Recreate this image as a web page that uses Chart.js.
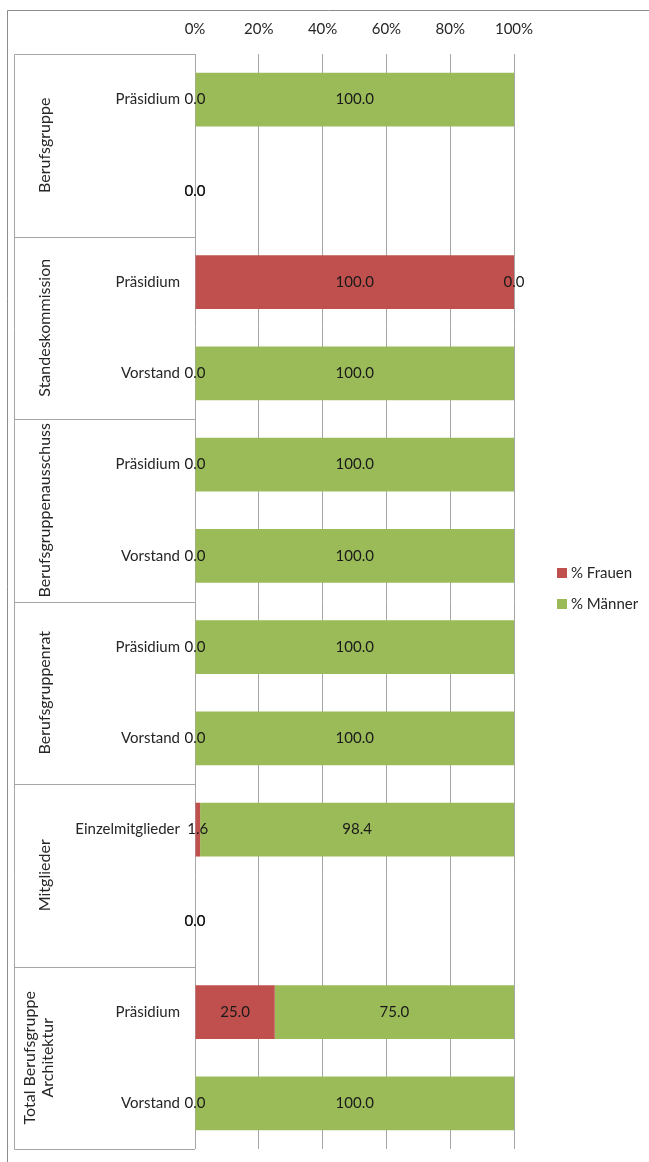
<!DOCTYPE html>
<html>
<head>
<meta charset="utf-8">
<script src="https://cdn.jsdelivr.net/npm/chart.js@4.4.1/dist/chart.umd.min.js"></script>
<style>
  html, body { margin: 0; padding: 0; background: #ffffff; }
  #wrap { width: 649px; height: 1162px; position: relative; }
</style>
</head>
<body>
<div id="wrap"><canvas id="chart"></canvas></div>
<script>
// Row labels (inner category axis)
const categories = [
  'Präsidium', '',
  'Präsidium', 'Vorstand',
  'Präsidium', 'Vorstand',
  'Präsidium', 'Vorstand',
  'Einzelmitglieder', '',
  'Präsidium', 'Vorstand'
];
// Outer grouping: each group spans two rows
const groups = [
  ['Berufsgruppe'],
  ['Standeskommission'],
  ['Berufsgruppenausschuss'],
  ['Berufsgruppenrat'],
  ['Mitglieder'],
  ['Total Berufsgruppe', 'Architektur']
];
const rowsPerGroup = 2;

// Shares in percent
const frauen = [0, 0, 100, 0, 0, 0, 0, 0, 1.6, 0, 25, 0];
const maenner = [100, 0, 0, 100, 100, 100, 100, 100, 98.4, 0, 75, 100];

const xTicks = [0, 20, 40, 60, 80, 100];

const FONT = 'Lato, "Open Sans", sans-serif';
const RED = '#C0504D';
const GREEN = '#9BBB59';
const GRID = '#A6A6A6';
const TEXT = '#262626';

// Outer frame, group boxes, group titles and legend
const framePlugin = {
  id: 'frame',
  beforeDraw(chart) {
    const ctx = chart.ctx;
    ctx.save();
    ctx.strokeStyle = '#8C8C8C';
    ctx.lineWidth = 1;
    ctx.beginPath();
    ctx.moveTo(7.5, chart.height + 5);
    ctx.lineTo(7.5, 10.5);
    ctx.lineTo(chart.width + 5, 10.5);
    ctx.stroke();
    ctx.restore();
  },
  afterDraw(chart) {
    const ctx = chart.ctx;
    const y = chart.scales.y;
    const area = chart.chartArea;
    const boxLeft = 14.5;
    ctx.save();
    ctx.strokeStyle = GRID;
    ctx.lineWidth = 1;
    ctx.beginPath();
    for (let g = 0; g <= groups.length; g++) {
      const py = Math.round(y.getPixelForValue(g * rowsPerGroup - 0.5)) + 0.5;
      ctx.moveTo(boxLeft, py);
      ctx.lineTo(area.left, py);
    }
    const top = Math.round(y.getPixelForValue(-0.5)) + 0.5;
    const bot = Math.round(y.getPixelForValue(categories.length - 0.5)) + 0.5;
    ctx.moveTo(boxLeft, top);
    ctx.lineTo(boxLeft, bot);
    ctx.stroke();

    ctx.fillStyle = TEXT;
    ctx.font = '16px ' + FONT;
    ctx.textAlign = 'center';
    ctx.textBaseline = 'middle';
    groups.forEach((lines, g) => {
      const cy = y.getPixelForValue(g * rowsPerGroup + (rowsPerGroup - 1) / 2);
      const lh = 18;
      const cx = lines.length > 1 ? 39 : 45;
      ctx.save();
      ctx.translate(cx, cy);
      ctx.rotate(-Math.PI / 2);
      lines.forEach((t, i) => {
        const off = (i - (lines.length - 1) / 2) * lh;
        ctx.fillText(t, 0, off);
      });
      ctx.restore();
    });

    // legend
    const items = [['% Frauen', RED], ['% Männer', GREEN]];
    ctx.textAlign = 'left';
    ctx.font = '15px ' + FONT;
    items.forEach(([t, c], i) => {
      const ly = 573 + i * 31;
      ctx.fillStyle = c;
      ctx.fillRect(557, ly - 5, 10, 10);
      ctx.fillStyle = TEXT;
      ctx.fillText(t, 571, ly);
    });
    ctx.restore();
  }
};

// Value labels in the middle of each segment
const valueLabels = {
  id: 'valueLabels',
  afterDatasetsDraw(chart) {
    const ctx = chart.ctx;
    ctx.save();
    ctx.font = '15px ' + FONT;
    ctx.fillStyle = '#1a1a1a';
    ctx.textAlign = 'center';
    ctx.textBaseline = 'middle';
    chart.data.datasets.forEach((ds, di) => {
      const meta = chart.getDatasetMeta(di);
      meta.data.forEach((bar, i) => {
        const v = ds.data[i];
        const cx = (bar.x + bar.base) / 2;
        ctx.fillText(v.toFixed(1), cx, bar.y);
      });
    });
    ctx.restore();
  }
};

new Chart(document.getElementById('chart'), {
  type: 'bar',
  data: {
    labels: categories,
    datasets: [
      { label: '% Frauen', data: frauen, backgroundColor: RED },
      { label: '% Männer', data: maenner, backgroundColor: GREEN }
    ]
  },
  options: {
    indexAxis: 'y',
    responsive: true,
    maintainAspectRatio: false,
    animation: false,
    layout: { padding: { left: 0, top: 0, right: 135, bottom: 13 } },
    barPercentage: 0.59,
    categoryPercentage: 1,
    plugins: { legend: { display: false }, tooltip: { enabled: false } },
    scales: {
      x: {
        position: 'top',
        stacked: true,
        min: 0,
        max: 100,
        afterBuildTicks(scale) { scale.ticks = xTicks.map(v => ({ value: v })); },
        afterFit(scale) {
          scale.height = 54;
          scale.paddingLeft = 0;
          scale.paddingRight = 0;
        },
        border: { display: false },
        grid: { color: GRID, drawTicks: false },
        ticks: {
          padding: 16,
          color: TEXT,
          font: { family: FONT, size: 15 },
          callback: v => v + '%'
        }
      },
      y: {
        stacked: true,
        afterFit(scale) {
          scale.width = 195;
          scale.paddingTop = 0;
          scale.paddingBottom = 0;
        },
        border: { display: false },
        grid: { display: false, drawTicks: false },
        ticks: {
          padding: 15,
          color: TEXT,
          font: { family: FONT, size: 15 }
        }
      }
    }
  },
  plugins: [framePlugin, valueLabels]
});
</script>
</body>
</html>
